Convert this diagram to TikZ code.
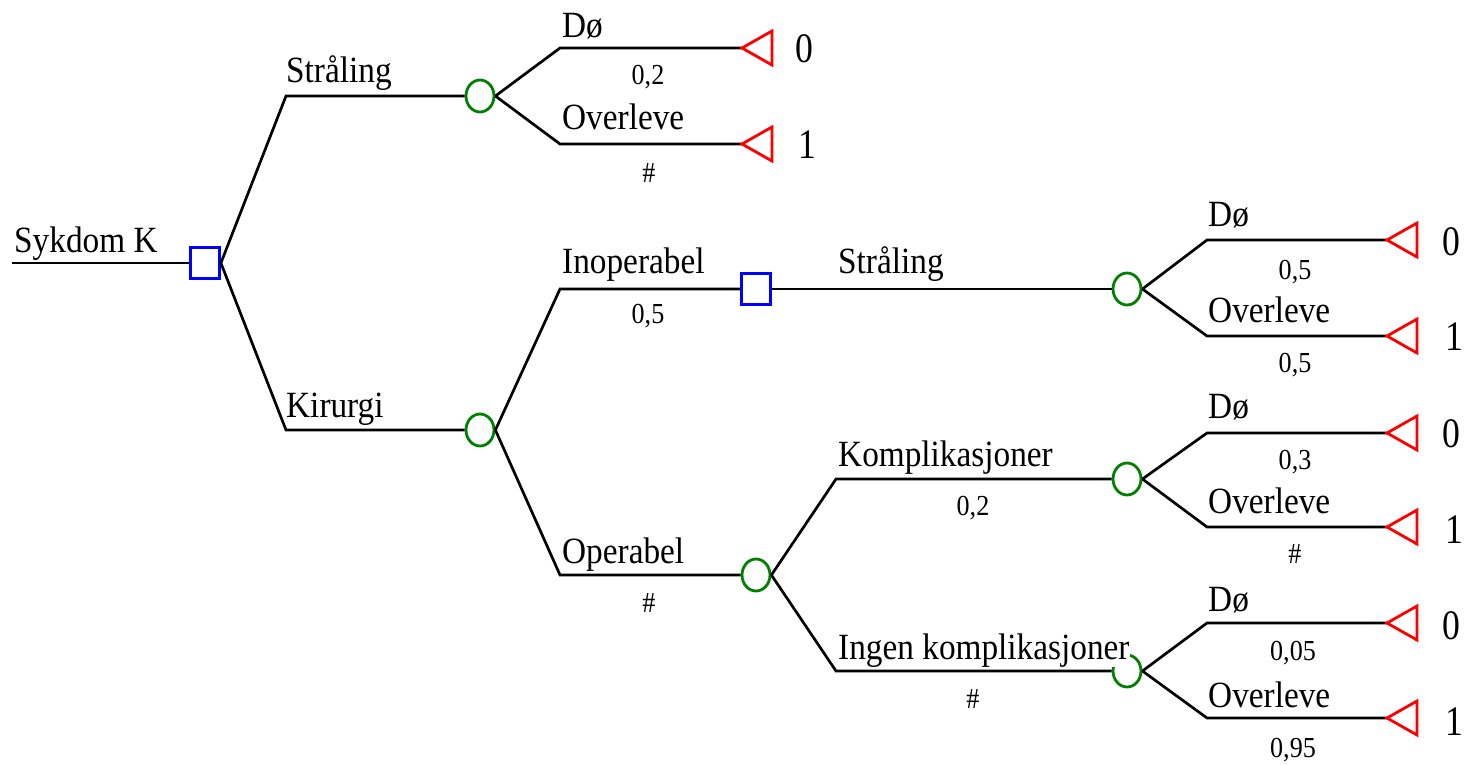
\documentclass[tikz,border=0pt]{standalone}
\usepackage{fontspec}
\setmainfont{Liberation Serif}[FakeStretch=0.9]
\newfontfamily\payfont{Liberation Serif}[FakeStretch=0.85]
\usetikzlibrary{shapes.geometric}

% red terminal triangle whose left tip sits at the given coordinate
\newcommand\termtri[1]{\draw[terminal] (#1) -- ++(30,-17) -- ++(0,34) -- cycle;}

\begin{document}
\begin{tikzpicture}[x=1pt,y=-1pt,
  branch/.style={line width=2.7pt, line join=miter},
  decision/.style={rectangle, draw=blue, line width=2.8pt, fill=white,
    minimum width=29pt, minimum height=31pt, inner sep=0pt},
  chance/.style={ellipse, draw=green!50!black, line width=2.8pt, fill=white,
    minimum width=28pt, minimum height=32pt, inner sep=0pt},
  terminal/.style={draw=red, line width=2.8pt, line join=miter},
  lbl/.style={anchor=base west, inner sep=0pt, fill=white,
    font=\fontsize{37}{40}\selectfont},
  prob/.style={anchor=base, inner sep=0pt, font=\fontsize{29}{32}\selectfont},
  pay/.style={anchor=base west, inner sep=0pt,
    font=\payfont\fontsize{42}{44}\selectfont},
]
\useasboundingbox (0,0) rectangle (1467,764);

% decision and chance nodes
\node[decision] (d0) at (205,263) {};
\node[chance]   (c1) at (480,96)  {};
\node[chance]   (c2) at (480,430) {};
\node[decision] (d1) at (756,289) {};
\node[chance]   (c3) at (756,575) {};
\node[chance]   (c4) at (1127,289) {};
\node[chance]   (c5) at (1127,479) {};
\node[chance]   (c6) at (1127,671) {};

% branch knees and terminal tips
\coordinate (root) at (12,263);
\coordinate (k1) at (286,96);   \coordinate (k2) at (286,430);
\coordinate (k3) at (560,48);   \coordinate (k4) at (560,144);
\coordinate (k5) at (560,289);  \coordinate (k6) at (560,575);
\coordinate (k7) at (836,289);
\coordinate (k8) at (836,479);  \coordinate (k9) at (836,671);
\coordinate (k10) at (1207,240); \coordinate (k11) at (1207,336);
\coordinate (k12) at (1207,433); \coordinate (k13) at (1207,527);
\coordinate (k14) at (1207,623); \coordinate (k15) at (1207,718);

\coordinate (t1) at (742,48);   \coordinate (t2) at (742,144);
\coordinate (t3) at (1387,240); \coordinate (t4) at (1387,336);
\coordinate (t5) at (1387,433); \coordinate (t6) at (1387,527);
\coordinate (t7) at (1387,623); \coordinate (t8) at (1387,718);

% branches
\draw[branch] (root) -- (d0.west);
\draw[branch] (d0.east) -- (k1) -- (c1.west);
\draw[branch] (d0.east) -- (k2) -- (c2.west);
\draw[branch] (c1.east) -- (k3) -- (t1);
\draw[branch] (c1.east) -- (k4) -- (t2);
\draw[branch] (c2.east) -- (k5) -- (d1.west);
\draw[branch] (c2.east) -- (k6) -- (c3.west);
\draw[branch] (d1.east) -- (k7) -- (c4.west);
\draw[branch] (c3.east) -- (k8) -- (c5.west);
\draw[branch] (c3.east) -- (k9) -- (c6.west);
\draw[branch] (c4.east) -- (k10) -- (t3);
\draw[branch] (c4.east) -- (k11) -- (t4);
\draw[branch] (c5.east) -- (k12) -- (t5);
\draw[branch] (c5.east) -- (k13) -- (t6);
\draw[branch] (c6.east) -- (k14) -- (t7);
\draw[branch] (c6.east) -- (k15) -- (t8);

% terminal nodes
\termtri{t1}\termtri{t2}\termtri{t3}\termtri{t4}
\termtri{t5}\termtri{t6}\termtri{t7}\termtri{t8}

% branch names
\node[lbl] (l0)  at (14,252)   {Sykdom K};
\node[lbl] (l1)  at (286,82)   {Stråling};
\node[lbl] (l2)  at (286,417)  {Kirurgi};
\node[lbl] (l3)  at (562,37)   {Dø};
\node[lbl] (l4)  at (562,129)  {Overleve};
\node[lbl] (l5)  at (562,273)  {Inoperabel};
\node[lbl] (l6)  at (562,563)  {Operabel};
\node[lbl] (l7)  at (838,273)  {Stråling};
\node[lbl] (l8)  at (838,466)  {Komplikasjoner};
\node[lbl] (l9)  at (838,659)  {Ingen komplikasjoner};
\node[lbl] (l10) at (1208,226) {Dø};
\node[lbl] (l11) at (1208,322) {Overleve};
\node[lbl] (l12) at (1208,418) {Dø};
\node[lbl] (l13) at (1208,513) {Overleve};
\node[lbl] (l14) at (1208,611) {Dø};
\node[lbl] (l15) at (1208,707) {Overleve};

% probabilities
\node[prob] (p1)  at (648,84)   {0,2};
\node[prob] (p2)  at (649,182)  {\#};
\node[prob] (p3)  at (648,323)  {0,5};
\node[prob] (p4)  at (649,612)  {\#};
\node[prob] (p5)  at (1295,279) {0,5};
\node[prob] (p6)  at (1295,372) {0,5};
\node[prob] (p7)  at (973,515)  {0,2};
\node[prob] (p8)  at (1295,469) {0,3};
\node[prob] (p9)  at (1295,563) {\#};
\node[prob] (p10) at (973,708)  {\#};
\node[prob] (p11) at (1293,660) {0,05};
\node[prob] (p12) at (1293,757) {0,95};

% payoffs
\node[pay] (v1) at (795,62)   {0};
\node[pay] (v2) at (798,158)  {1};
\node[pay] (v3) at (1442,255) {0};
\node[pay] (v4) at (1445,350) {1};
\node[pay] (v5) at (1442,447) {0};
\node[pay] (v6) at (1445,543) {1};
\node[pay] (v7) at (1442,639) {0};
\node[pay] (v8) at (1445,735) {1};
\end{tikzpicture}
\end{document}
